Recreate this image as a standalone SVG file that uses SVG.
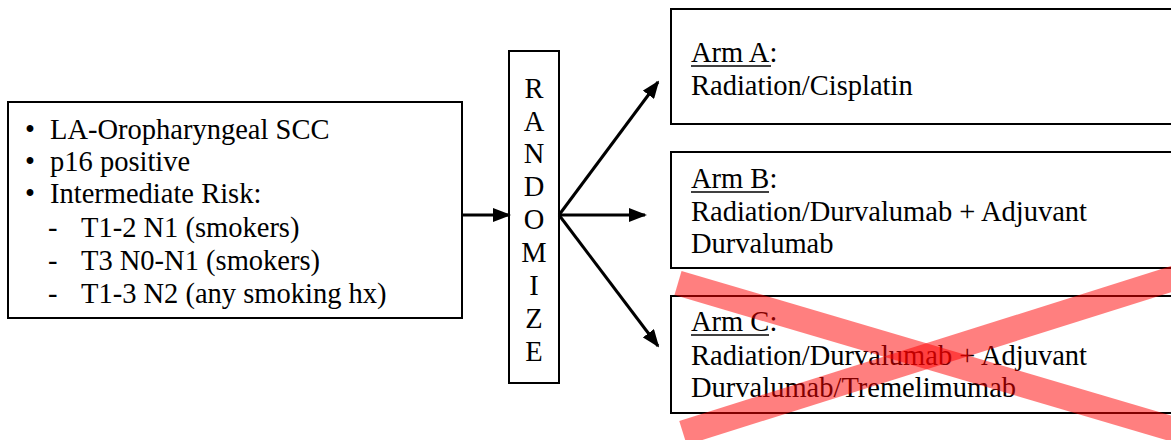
<svg xmlns="http://www.w3.org/2000/svg" width="1171" height="440" viewBox="0 0 1171 440">
<defs>
<style>
.box{fill:#fff;stroke:#000;stroke-width:2}
.t{font-family:'Liberation Serif','Times New Roman','DejaVu Serif',serif;font-size:28.5px;fill:#000}
.c{text-anchor:middle}
.ul{stroke:#000;stroke-width:1.5}
.conn{stroke:#000;stroke-width:3;fill:none}
.x{stroke:#ff0000;stroke-opacity:0.5;stroke-width:25;fill:none}
</style>
<marker id="ah" markerWidth="18" markerHeight="14" refX="16" refY="7" orient="auto" markerUnits="userSpaceOnUse" viewBox="0 0 18 14">
<path d="M0,0 L18,7 L0,14 z" fill="#000"/>
</marker>
</defs>
<rect width="1171" height="440" fill="#fff"/>
<g id="eligibility">
<rect class="box" x="8" y="102" width="454" height="216"/>
<text class="t" x="25" y="139">•</text><text class="t" x="50" y="139">LA-Oropharyngeal SCC</text>
<text class="t" x="25" y="171">•</text><text class="t" x="50" y="171">p16 positive</text>
<text class="t" x="25" y="203">•</text><text class="t" x="50" y="203">Intermediate Risk:</text>
<text class="t" x="48" y="237">-</text><text class="t" x="81" y="237">T1-2 N1 (smokers)</text>
<text class="t" x="48" y="270">-</text><text class="t" x="81" y="270">T3 N0-N1 (smokers)</text>
<text class="t" x="48" y="303">-</text><text class="t" x="81" y="303">T1-3 N2 (any smoking hx)</text>
</g>
<g id="randomize">
<rect class="box" x="509" y="51" width="50" height="332"/>
<text class="t c" x="534" y="98">R</text>
<text class="t c" x="534" y="131">A</text>
<text class="t c" x="534" y="163">N</text>
<text class="t c" x="534" y="196">D</text>
<text class="t c" x="534" y="229">O</text>
<text class="t c" x="534" y="262">M</text>
<text class="t c" x="534" y="295">I</text>
<text class="t c" x="534" y="328">Z</text>
<text class="t c" x="534" y="361">E</text>
</g>
<g id="armA">
<rect class="box" x="671" y="9" width="520" height="115"/>
<text class="t" x="691" y="62">Arm A:</text>
<line class="ul" x1="691" y1="66" x2="771" y2="66"/>
<text class="t" x="691" y="95">Radiation/Cisplatin</text>
</g>
<g id="armB">
<rect class="box" x="671" y="152" width="520" height="116"/>
<text class="t" x="691" y="188">Arm B:</text>
<line class="ul" x1="691" y1="192" x2="769" y2="192"/>
<text class="t" x="691" y="221">Radiation/Durvalumab + Adjuvant</text>
<text class="t" x="691" y="253">Durvalumab</text>
</g>
<g id="armC">
<rect class="box" x="671" y="296" width="520" height="117"/>
<text class="t" x="691" y="331">Arm C:</text>
<line class="ul" x1="691" y1="335" x2="769" y2="335"/>
<text class="t" x="691" y="365">Radiation/Durvalumab + Adjuvant</text>
<text class="t" x="691" y="397">Durvalumab/Tremelimumab</text>
</g>
<g id="connectors">
<line class="conn" x1="462" y1="215" x2="509" y2="215" marker-end="url(#ah)"/>
<line class="conn" x1="559" y1="215" x2="658" y2="82" marker-end="url(#ah)"/>
<line class="conn" x1="559" y1="215" x2="645" y2="215" marker-end="url(#ah)"/>
<line class="conn" x1="559" y1="215" x2="658" y2="346" marker-end="url(#ah)"/>
</g>
<g id="cross">
<line class="x" x1="678" y1="283" x2="1200" y2="437"/>
<line class="x" x1="683" y1="433" x2="1200" y2="270"/>
</g>
</svg>
